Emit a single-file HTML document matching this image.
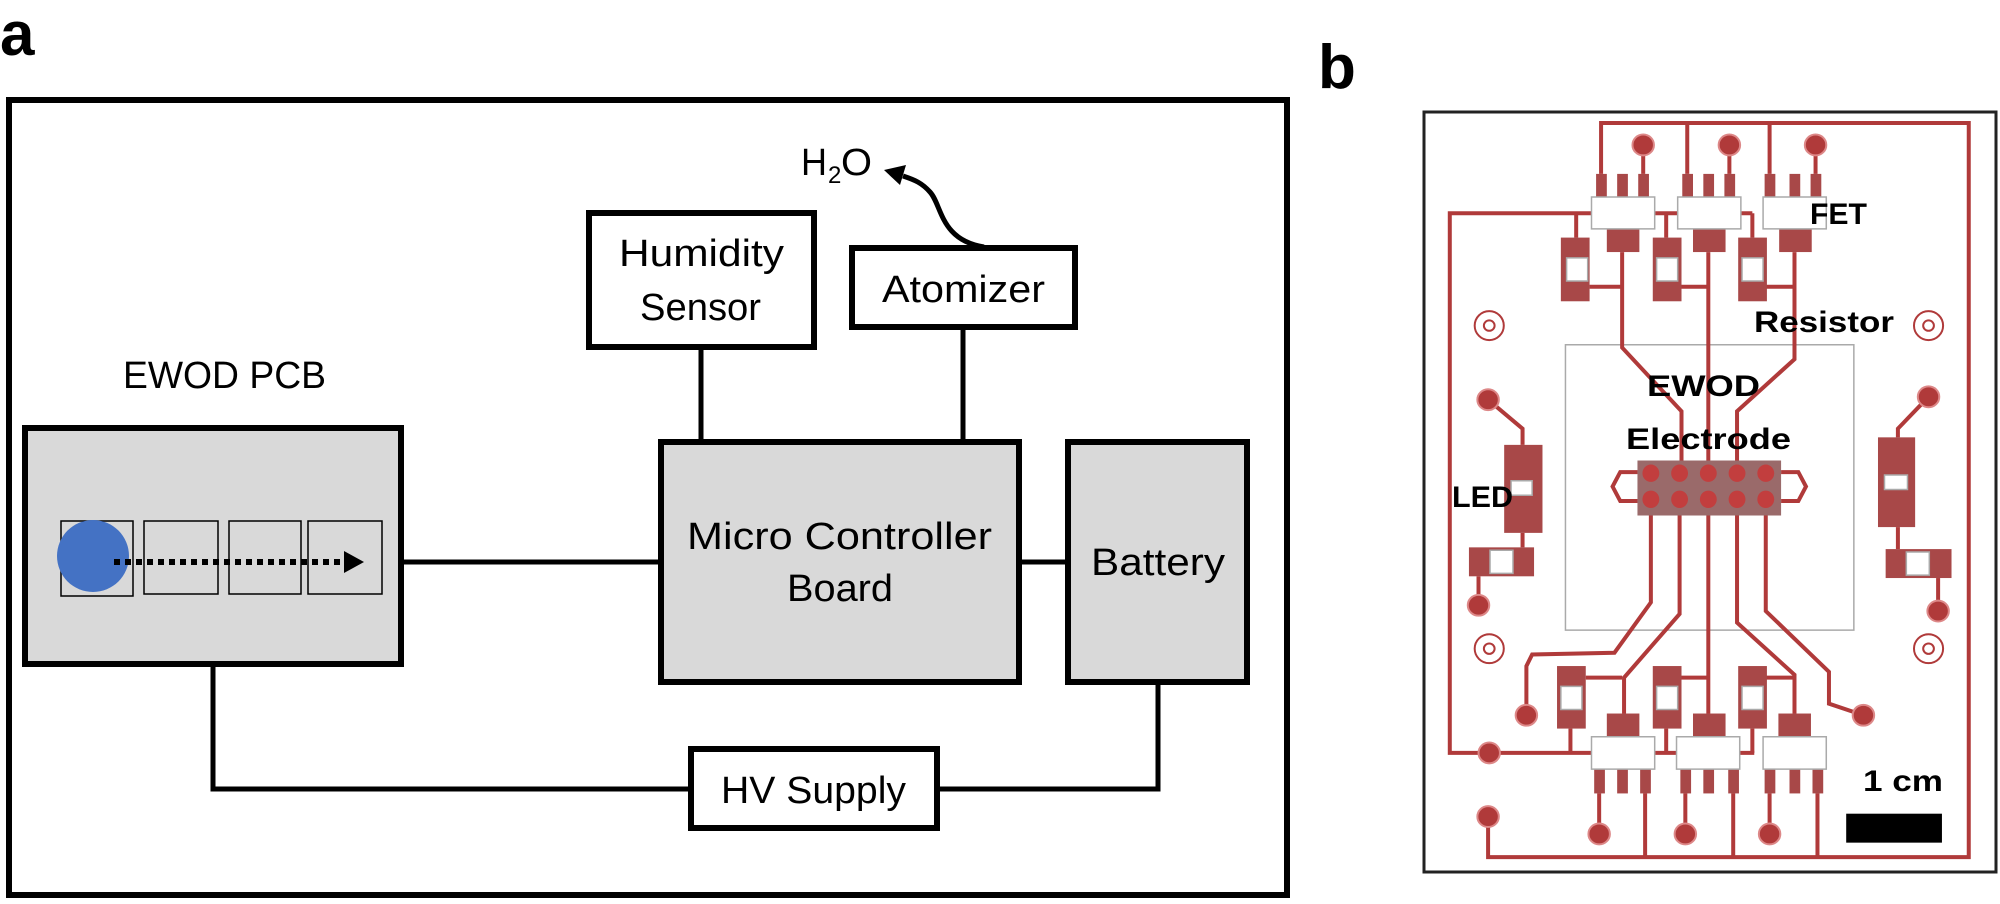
<!DOCTYPE html>
<html><head><meta charset="utf-8"><style>
html,body{margin:0;padding:0;background:#fff}
svg{display:block}
text{font-family:"Liberation Sans",sans-serif}
</style></head><body>
<svg width="2000" height="904" viewBox="0 0 2000 904" xmlns="http://www.w3.org/2000/svg">
<rect width="2000" height="904" fill="#fff"/>
<text x="0" y="55" font-size="62" font-weight="bold">a</text>
<rect x="9" y="100" width="1278" height="795" fill="none" stroke="#000" stroke-width="6"/>
<g stroke="#000" stroke-width="5" fill="none">
<line x1="701" y1="347" x2="701" y2="442"/>
<line x1="963" y1="327" x2="963" y2="442"/>
<line x1="401" y1="562" x2="661" y2="562"/>
<line x1="1019" y1="562" x2="1068" y2="562"/>
<polyline points="213,664 213,789 691,789"/>
<polyline points="937,789 1158,789 1158,682"/>
<path d="M984,247 C940,240 942,205 930,192 C922,183 915,180 903,176"/>
</g>
<polygon points="884,170 906,165 900,185" fill="#000"/>
<rect x="589" y="213" width="225" height="134" fill="#fff" stroke="#000" stroke-width="6"/>
<rect x="852" y="248" width="223" height="79" fill="#fff" stroke="#000" stroke-width="6"/>
<rect x="25" y="428" width="376" height="236" fill="#d9d9d9" stroke="#000" stroke-width="6"/>
<rect x="661" y="442" width="358" height="240" fill="#d9d9d9" stroke="#000" stroke-width="6"/>
<rect x="1068" y="442" width="179" height="240" fill="#d9d9d9" stroke="#000" stroke-width="6"/>
<rect x="691" y="749" width="246" height="79" fill="#fff" stroke="#000" stroke-width="6"/>
<g fill="none" stroke="#000" stroke-width="1.5">
<rect x="61" y="521" width="72" height="75"/>
<rect x="144" y="521" width="74" height="73"/>
<rect x="229" y="521" width="72" height="73"/>
<rect x="308" y="521" width="74" height="73"/>
</g>
<ellipse cx="93" cy="556" rx="36" ry="36" fill="#4472c4"/>
<line x1="114" y1="562" x2="346" y2="562" stroke="#000" stroke-width="6" stroke-dasharray="6,5"/>
<polygon points="344,551 364,562 344,573" fill="#000"/>
<g font-size="38" fill="#000">
<text x="619" y="266" textLength="165" lengthAdjust="spacingAndGlyphs">Humidity</text>
<text x="640" y="320" textLength="121" lengthAdjust="spacingAndGlyphs">Sensor</text>
<text x="882" y="302" textLength="163" lengthAdjust="spacingAndGlyphs">Atomizer</text>
<text x="123" y="388" textLength="203" lengthAdjust="spacingAndGlyphs">EWOD PCB</text>
<text x="687" y="549" textLength="305" lengthAdjust="spacingAndGlyphs">Micro Controller</text>
<text x="787" y="601" textLength="106" lengthAdjust="spacingAndGlyphs">Board</text>
<text x="1091" y="575" textLength="134" lengthAdjust="spacingAndGlyphs">Battery</text>
<text x="721" y="803" textLength="185" lengthAdjust="spacingAndGlyphs">HV Supply</text>
<text x="801" y="175" textLength="26" lengthAdjust="spacingAndGlyphs">H</text>
<text x="828" y="183" font-size="24">2</text>
<text x="841" y="175" textLength="31" lengthAdjust="spacingAndGlyphs">O</text>
</g>
<text x="1318" y="88" font-size="62" font-weight="bold">b</text>
<rect x="1424" y="112" width="572" height="760" fill="#fff" stroke="#222" stroke-width="3"/>
<g transform="translate(1400,0.2) scale(0.383,0.579)">
<rect x="432" y="595" width="753" height="493" fill="none" stroke="#aaa" stroke-width="1.5" vector-effect="non-scaling-stroke"/>
<g fill="none" stroke="#b03a3a" stroke-width="4">
<polyline vector-effect="non-scaling-stroke" points="525,300 525,212 1485,212 1485,1480 230,1480 230,1410"/>
<line vector-effect="non-scaling-stroke" x1="750" y1="212" x2="750" y2="300"/>
<line vector-effect="non-scaling-stroke" x1="965" y1="212" x2="965" y2="300"/>
<line vector-effect="non-scaling-stroke" x1="635" y1="250" x2="635" y2="300"/>
<line vector-effect="non-scaling-stroke" x1="860" y1="250" x2="860" y2="300"/>
<line vector-effect="non-scaling-stroke" x1="1085" y1="250" x2="1085" y2="300"/>
<polyline vector-effect="non-scaling-stroke" points="920,368 130,368 130,1300 925,1300"/>
<line vector-effect="non-scaling-stroke" x1="460" y1="368" x2="460" y2="410"/>
<line vector-effect="non-scaling-stroke" x1="695" y1="368" x2="695" y2="410"/>
<line vector-effect="non-scaling-stroke" x1="920" y1="368" x2="920" y2="410"/>
<polyline vector-effect="non-scaling-stroke" points="580,435 580,600 735,710 735,795"/>
<line vector-effect="non-scaling-stroke" x1="805" y1="435" x2="805" y2="795"/>
<polyline vector-effect="non-scaling-stroke" points="1030,435 1030,620 880,710 880,795"/>
<line vector-effect="non-scaling-stroke" x1="495" y1="495" x2="580" y2="495"/>
<line vector-effect="non-scaling-stroke" x1="735" y1="495" x2="805" y2="495"/>
<line vector-effect="non-scaling-stroke" x1="955" y1="495" x2="1030" y2="495"/>
<polyline vector-effect="non-scaling-stroke" points="655,890 655,1040 560,1127 345,1130 330,1150 330,1235"/>
<polyline vector-effect="non-scaling-stroke" points="730,890 730,1060 585,1170 585,1232"/>
<line vector-effect="non-scaling-stroke" x1="805" y1="890" x2="805" y2="1232"/>
<polyline vector-effect="non-scaling-stroke" points="880,890 880,1075 1030,1165 1030,1232"/>
<polyline vector-effect="non-scaling-stroke" points="955,890 955,1055 1120,1160 1120,1215 1210,1235"/>
<line vector-effect="non-scaling-stroke" x1="445" y1="1258" x2="445" y2="1300"/>
<line vector-effect="non-scaling-stroke" x1="695" y1="1258" x2="695" y2="1300"/>
<line vector-effect="non-scaling-stroke" x1="920" y1="1258" x2="920" y2="1300"/>
<line vector-effect="non-scaling-stroke" x1="485" y1="1170" x2="580" y2="1170"/>
<line vector-effect="non-scaling-stroke" x1="735" y1="1170" x2="805" y2="1170"/>
<line vector-effect="non-scaling-stroke" x1="955" y1="1170" x2="1030" y2="1170"/>
<line vector-effect="non-scaling-stroke" x1="520" y1="1370" x2="520" y2="1440"/>
<line vector-effect="non-scaling-stroke" x1="745" y1="1370" x2="745" y2="1440"/>
<line vector-effect="non-scaling-stroke" x1="965" y1="1370" x2="965" y2="1440"/>
<line vector-effect="non-scaling-stroke" x1="640" y1="1370" x2="640" y2="1480"/>
<line vector-effect="non-scaling-stroke" x1="870" y1="1370" x2="870" y2="1480"/>
<line vector-effect="non-scaling-stroke" x1="1090" y1="1370" x2="1090" y2="1480"/>
<polyline vector-effect="non-scaling-stroke" points="230,690 320,740 320,768"/>
<polyline vector-effect="non-scaling-stroke" points="1380,685 1300,740 1300,755"/>
<line vector-effect="non-scaling-stroke" x1="320" y1="920" x2="320" y2="945"/>
<line vector-effect="non-scaling-stroke" x1="1300" y1="910" x2="1300" y2="948"/>
<line vector-effect="non-scaling-stroke" x1="205" y1="995" x2="205" y2="1045"/>
<line vector-effect="non-scaling-stroke" x1="1405" y1="998" x2="1405" y2="1055"/>
<path vector-effect="non-scaling-stroke" d="M620,815 L575,815 L555,840 L575,865 L620,865"/>
<path vector-effect="non-scaling-stroke" d="M995,815 L1040,815 L1060,840 L1040,865 L995,865"/>
</g>
<g fill="#a84848">
<rect x="512" y="300" width="28" height="40"/><rect x="567" y="300" width="28" height="40"/><rect x="622" y="300" width="28" height="40"/>
<rect x="737" y="300" width="28" height="40"/><rect x="792" y="300" width="28" height="40"/><rect x="847" y="300" width="28" height="40"/>
<rect x="952" y="300" width="28" height="40"/><rect x="1017" y="300" width="28" height="40"/><rect x="1072" y="300" width="28" height="40"/>
<rect x="540" y="395" width="85" height="40"/><rect x="765" y="395" width="85" height="40"/><rect x="990" y="395" width="85" height="40"/>
<rect x="420" y="410" width="75" height="110"/><rect x="660" y="410" width="75" height="110"/><rect x="883" y="410" width="75" height="110"/>
<rect x="410" y="1150" width="75" height="108"/><rect x="660" y="1150" width="75" height="108"/><rect x="883" y="1150" width="75" height="108"/>
<rect x="540" y="1232" width="85" height="40"/><rect x="765" y="1232" width="85" height="40"/><rect x="988" y="1232" width="85" height="40"/>
<rect x="507" y="1328" width="28" height="42"/><rect x="567" y="1328" width="28" height="42"/><rect x="627" y="1328" width="28" height="42"/>
<rect x="732" y="1328" width="28" height="42"/><rect x="792" y="1328" width="28" height="42"/><rect x="857" y="1328" width="28" height="42"/>
<rect x="952" y="1328" width="28" height="42"/><rect x="1017" y="1328" width="28" height="42"/><rect x="1077" y="1328" width="28" height="42"/>
<rect x="272" y="768" width="100" height="152"/><rect x="1248" y="755" width="97" height="155"/>
<rect x="180" y="945" width="170" height="50"/><rect x="1268" y="948" width="172" height="50"/>
<rect x="620" y="795" width="375" height="95" fill="#9a6a6a"/>
</g>
<g fill="#c23e3e">
<ellipse cx="655" cy="817" rx="22" ry="15"/><ellipse cx="730" cy="817" rx="22" ry="15"/><ellipse cx="805" cy="817" rx="22" ry="15"/><ellipse cx="880" cy="817" rx="22" ry="15"/><ellipse cx="955" cy="817" rx="22" ry="15"/>
<ellipse cx="655" cy="862" rx="22" ry="15"/><ellipse cx="730" cy="862" rx="22" ry="15"/><ellipse cx="805" cy="862" rx="22" ry="15"/><ellipse cx="880" cy="862" rx="22" ry="15"/><ellipse cx="955" cy="862" rx="22" ry="15"/>
</g>
<g fill="#fff" stroke="#aaa" stroke-width="1.5">
<rect vector-effect="non-scaling-stroke" x="500" y="340" width="165" height="55"/>
<rect vector-effect="non-scaling-stroke" x="725" y="340" width="165" height="55"/>
<rect vector-effect="non-scaling-stroke" x="948" y="340" width="165" height="55"/>
<rect vector-effect="non-scaling-stroke" x="500" y="1272" width="165" height="56"/>
<rect vector-effect="non-scaling-stroke" x="722" y="1272" width="165" height="56"/>
<rect vector-effect="non-scaling-stroke" x="948" y="1272" width="165" height="56"/>
<rect vector-effect="non-scaling-stroke" x="435" y="445" width="55" height="40"/>
<rect vector-effect="non-scaling-stroke" x="670" y="445" width="55" height="40"/>
<rect vector-effect="non-scaling-stroke" x="893" y="445" width="55" height="40"/>
<rect vector-effect="non-scaling-stroke" x="420" y="1185" width="55" height="40"/>
<rect vector-effect="non-scaling-stroke" x="670" y="1185" width="55" height="40"/>
<rect vector-effect="non-scaling-stroke" x="893" y="1185" width="55" height="40"/>
<rect vector-effect="non-scaling-stroke" x="235" y="950" width="60" height="40"/>
<rect vector-effect="non-scaling-stroke" x="1322" y="953" width="60" height="40"/>
<rect vector-effect="non-scaling-stroke" x="290" y="830" width="55" height="25"/>
<rect vector-effect="non-scaling-stroke" x="1265" y="820" width="60" height="25"/>
</g>
<g fill="#b03a3a" stroke="#d88" stroke-width="2">
<ellipse vector-effect="non-scaling-stroke" cx="635" cy="250" rx="28" ry="18"/><ellipse vector-effect="non-scaling-stroke" cx="860" cy="250" rx="28" ry="18"/><ellipse vector-effect="non-scaling-stroke" cx="1085" cy="250" rx="28" ry="18"/>
<ellipse vector-effect="non-scaling-stroke" cx="230" cy="690" rx="28" ry="18"/><ellipse vector-effect="non-scaling-stroke" cx="1380" cy="685" rx="28" ry="18"/>
<ellipse vector-effect="non-scaling-stroke" cx="205" cy="1045" rx="28" ry="18"/><ellipse vector-effect="non-scaling-stroke" cx="1405" cy="1055" rx="28" ry="18"/>
<ellipse vector-effect="non-scaling-stroke" cx="330" cy="1235" rx="28" ry="18"/><ellipse vector-effect="non-scaling-stroke" cx="1210" cy="1235" rx="28" ry="18"/>
<ellipse vector-effect="non-scaling-stroke" cx="233" cy="1300" rx="28" ry="18"/><ellipse vector-effect="non-scaling-stroke" cx="230" cy="1410" rx="28" ry="18"/>
<ellipse vector-effect="non-scaling-stroke" cx="520" cy="1440" rx="28" ry="18"/><ellipse vector-effect="non-scaling-stroke" cx="745" cy="1440" rx="28" ry="18"/><ellipse vector-effect="non-scaling-stroke" cx="965" cy="1440" rx="28" ry="18"/>
</g>
<g fill="none" stroke="#b03a3a" stroke-width="2">
<ellipse vector-effect="non-scaling-stroke" cx="233" cy="562" rx="38" ry="25"/><ellipse vector-effect="non-scaling-stroke" cx="233" cy="562" rx="14" ry="9"/>
<ellipse vector-effect="non-scaling-stroke" cx="1380" cy="562" rx="38" ry="25"/><ellipse vector-effect="non-scaling-stroke" cx="1380" cy="562" rx="14" ry="9"/>
<ellipse vector-effect="non-scaling-stroke" cx="233" cy="1120" rx="38" ry="25"/><ellipse vector-effect="non-scaling-stroke" cx="233" cy="1120" rx="14" ry="9"/>
<ellipse vector-effect="non-scaling-stroke" cx="1380" cy="1120" rx="38" ry="25"/><ellipse vector-effect="non-scaling-stroke" cx="1380" cy="1120" rx="14" ry="9"/>
</g>
<rect x="1165" y="1405" width="250" height="50" fill="#000"/>
</g>
<g font-weight="bold" font-size="30" fill="#000">
<text x="1810" y="224" textLength="57" lengthAdjust="spacingAndGlyphs">FET</text>
<text x="1754" y="332" textLength="140" lengthAdjust="spacingAndGlyphs">Resistor</text>
<text x="1647" y="396" textLength="113" lengthAdjust="spacingAndGlyphs">EWOD</text>
<text x="1626" y="449" textLength="165" lengthAdjust="spacingAndGlyphs">Electrode</text>
<text x="1452" y="507" textLength="61" lengthAdjust="spacingAndGlyphs">LED</text>
<text x="1863" y="791" textLength="80" lengthAdjust="spacingAndGlyphs">1 cm</text>
</g>
</svg>
</body></html>
